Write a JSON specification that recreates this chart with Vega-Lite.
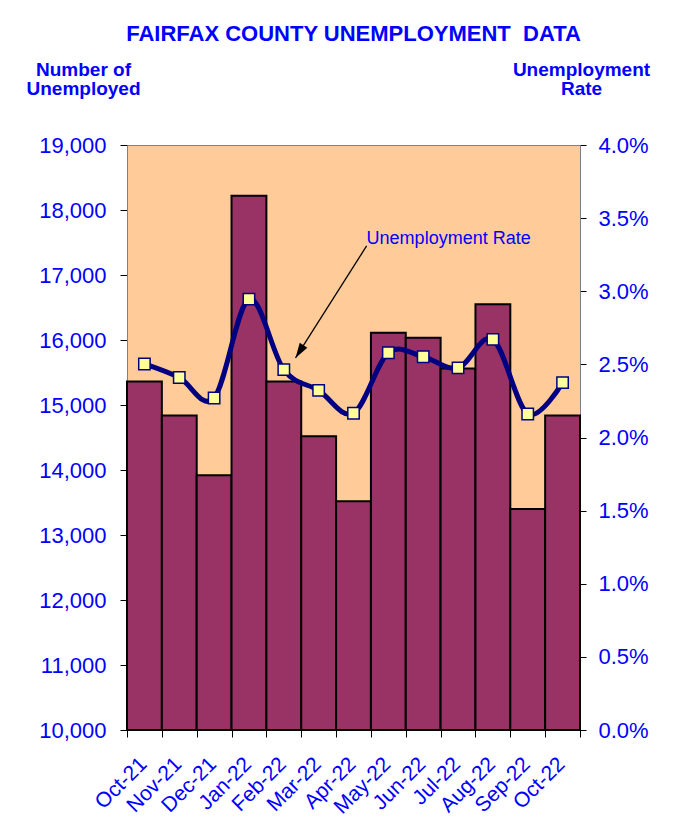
{
  "$schema": "https://vega.github.io/schema/vega-lite/v6.json",
  "autosize": "none",
  "width": 453,
  "height": 585,
  "padding": {"left": 127, "top": 145, "right": 104, "bottom": 110},
  "background": "white",
  "config": {
    "font": "Liberation Sans",
    "view": {"fill": "#FFCC99", "stroke": "#808080", "strokeWidth": 1}
  },
  "title": {
    "text": "FAIRFAX COUNTY UNEMPLOYMENT\u00a0 DATA",
    "fontSize": 22,
    "fontWeight": "bold",
    "color": "#0000FF",
    "anchor": "middle",
    "frame": "group",
    "baseline": "alphabetic",
    "offset": -3
  },
  "datasets": {
    "monthly": [
      {"month": "Oct-21", "unemployed": 15360, "rate": 0.02503},
      {"month": "Nov-21", "unemployed": 14840, "rate": 0.0241},
      {"month": "Dec-21", "unemployed": 13920, "rate": 0.0227},
      {"month": "Jan-22", "unemployed": 18220, "rate": 0.02946},
      {"month": "Feb-22", "unemployed": 15360, "rate": 0.02464},
      {"month": "Mar-22", "unemployed": 14520, "rate": 0.02322},
      {"month": "Apr-22", "unemployed": 13520, "rate": 0.02166},
      {"month": "May-22", "unemployed": 16110, "rate": 0.02579},
      {"month": "Jun-22", "unemployed": 16035, "rate": 0.02552},
      {"month": "Jul-22", "unemployed": 15560, "rate": 0.02476},
      {"month": "Aug-22", "unemployed": 16550, "rate": 0.02671},
      {"month": "Sep-22", "unemployed": 13400, "rate": 0.02161},
      {"month": "Oct-22", "unemployed": 14840, "rate": 0.02375}
    ],
    "note": [{"pos": 6.876, "rate": 0.03324, "label": "Unemployment Rate"}],
    "arrow": [{"x0": 6.876, "r0": 0.0331, "x1": 4.836, "r1": 0.02544}]
  },
  "layer": [
    {
      "data": {"name": "monthly"},
      "mark": {"type": "bar", "fill": "#993366", "stroke": "#000000", "strokeWidth": 2},
      "encoding": {
        "x": {
          "field": "month",
          "type": "nominal",
          "sort": null,
          "scale": {"domain": ["Oct-21","Nov-21","Dec-21","Jan-22","Feb-22","Mar-22","Apr-22","May-22","Jun-22","Jul-22","Aug-22","Sep-22","Oct-22"], "paddingInner": 0, "paddingOuter": 0},
          "axis": {
            "title": null,
            "tickBand": "extent",
            "tickSize": 7,
            "tickColor": "#000000",
            "domainColor": "#000000",
            "labelAngle": -45,
            "labelAlign": "right",
            "labelBaseline": "top",
            "labelFontSize": 21,
            "labelColor": "#0000FF",
            "labelPadding": 16,
            "labelOffset": -9,
            "grid": false
          }
        },
        "y": {
          "field": "unemployed",
          "type": "quantitative",
          "scale": {"domain": [10000, 19000], "nice": false, "zero": false},
          "axis": {
            "values": [10000, 11000, 12000, 13000, 14000, 15000, 16000, 17000, 18000, 19000],
            "format": ",d",
            "grid": false,
            "tickSize": 7,
            "tickColor": "#000000",
            "domainColor": "#808080",
            "labelFontSize": 22,
            "labelColor": "#0000FF",
            "labelPadding": 14,
            "title": ["Number of", "Unemployed"],
            "titleAngle": 0,
            "titleAlign": "center",
            "titleBaseline": "alphabetic",
            "titleX": -44,
            "titleY": -70,
            "titleFontSize": 19,
            "titleFontWeight": "bold",
            "titleColor": "#0000FF",
            "titleLineHeight": 19
          }
        },
        "y2": {"datum": 10000}
      }
    },
    {
      "data": {"name": "monthly"},
      "encoding": {
        "x": {
          "field": "month",
          "type": "nominal",
          "sort": null,
          "scale": {"domain": ["Oct-21","Nov-21","Dec-21","Jan-22","Feb-22","Mar-22","Apr-22","May-22","Jun-22","Jul-22","Aug-22","Sep-22","Oct-22"], "paddingInner": 0, "paddingOuter": 0},
          "axis": null
        },
        "y": {
          "field": "rate",
          "type": "quantitative",
          "scale": {"domain": [0, 0.04], "nice": false},
          "axis": {
            "orient": "right",
            "values": [0, 0.005, 0.01, 0.015, 0.02, 0.025, 0.03, 0.035, 0.04],
            "format": ".1%",
            "grid": false,
            "tickSize": 6,
            "tickColor": "#000000",
            "domainColor": "#808080",
            "labelFontSize": 22,
            "labelColor": "#0000FF",
            "labelPadding": 12,
            "title": ["Unemployment", "Rate"],
            "titleAngle": 0,
            "titleAlign": "center",
            "titleBaseline": "alphabetic",
            "titleX": 1,
            "titleY": -70,
            "titleFontSize": 19,
            "titleFontWeight": "bold",
            "titleColor": "#0000FF",
            "titleLineHeight": 19
          }
        }
      },
      "layer": [
        {"mark": {"type": "line", "stroke": "#000080", "strokeWidth": 5, "interpolate": "cardinal"}},
        {"mark": {"type": "point", "shape": "square", "filled": true, "fill": "#FFFF99", "stroke": "#000080", "strokeWidth": 1.5, "size": 130, "opacity": 1}}
      ]
    },
    {
      "layer": [
        {
          "data": {"name": "arrow"},
          "mark": {"type": "rule", "stroke": "#000000", "strokeWidth": 1.3},
          "encoding": {
            "x": {"field": "x0", "type": "quantitative", "scale": {"domain": [0, 13], "nice": false, "zero": false}, "axis": null},
            "x2": {"field": "x1"},
            "y": {"field": "r0", "type": "quantitative", "scale": {"domain": [0, 0.04], "nice": false}, "axis": null},
            "y2": {"field": "r1"}
          }
        },
        {
          "data": {"name": "arrow"},
          "mark": {"type": "point", "shape": "M0,0L-0.6,2L0.6,2Z", "filled": true, "fill": "#000000", "strokeWidth": 0, "size": 225, "angle": 212.3, "opacity": 1},
          "encoding": {
            "x": {"field": "x1", "type": "quantitative"},
            "y": {"field": "r1", "type": "quantitative"}
          }
        },
        {
          "data": {"name": "note"},
          "mark": {"type": "text", "align": "left", "baseline": "alphabetic", "fontSize": 18, "fill": "#0000FF"},
          "encoding": {
            "x": {"field": "pos", "type": "quantitative"},
            "y": {"field": "rate", "type": "quantitative"},
            "text": {"field": "label"}
          }
        }
      ]
    }
  ],
  "resolve": {"scale": {"x": "independent", "y": "independent"}}
}
